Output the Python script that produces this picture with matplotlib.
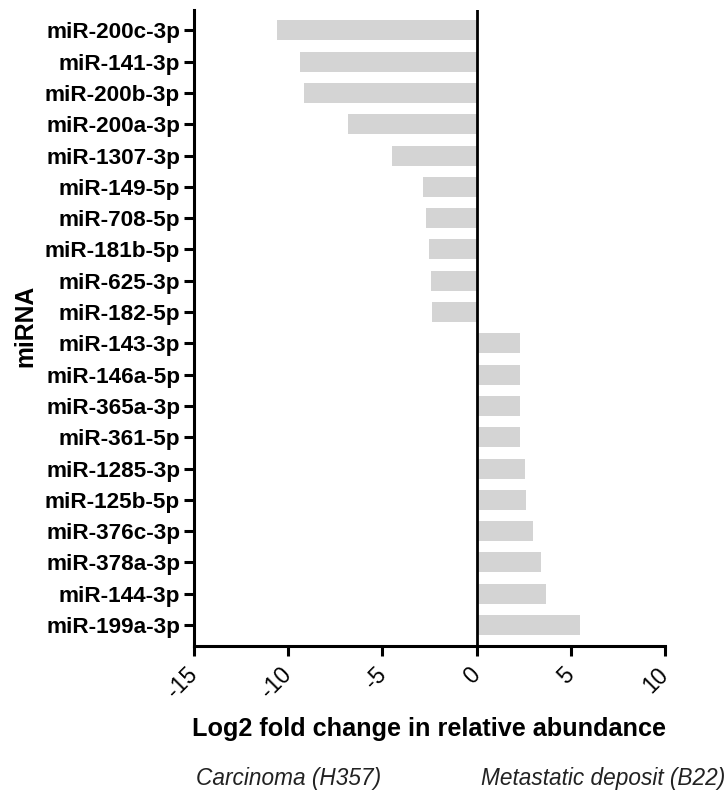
import matplotlib
matplotlib.use("Agg")
import matplotlib.pyplot as plt
from matplotlib.transforms import ScaledTranslation

plt.rcParams['font.family'] = ['Liberation Sans', 'DejaVu Sans']
plt.rcParams['axes.unicode_minus'] = False

# miRNAs, top to bottom as in the figure
mirnas = ["miR-200c-3p", "miR-141-3p", "miR-200b-3p", "miR-200a-3p", "miR-1307-3p",
          "miR-149-5p", "miR-708-5p", "miR-181b-5p", "miR-625-3p", "miR-182-5p",
          "miR-143-3p", "miR-146a-5p", "miR-365a-3p", "miR-361-5p", "miR-1285-3p",
          "miR-125b-5p", "miR-376c-3p", "miR-378a-3p", "miR-144-3p", "miR-199a-3p"]
log2fc = [-10.6, -9.35, -9.15, -6.85, -4.5,
          -2.85, -2.7, -2.55, -2.42, -2.35,
          2.28, 2.28, 2.33, 2.33, 2.55,
          2.63, 2.97, 3.4, 3.68, 5.5]
xticks = [-15, -10, -5, 0, 5, 10]

fig = plt.figure(figsize=(7.28, 7.98), dpi=100)
ax = fig.add_axes([194/728, 1 - 646/798, (665 - 194)/728, (646 - 10)/798])

ypos = list(range(len(mirnas)))
ax.barh(ypos, log2fc, height=0.64, color='#d4d4d4', edgecolor='none', zorder=1)
ax.axvline(0, color='black', linewidth=2, zorder=2)

ax.set_xlim(-15, 10)
ax.set_ylim(len(mirnas) - 0.33, -0.65)

ax.set_yticks(ypos)
ax.set_yticklabels(mirnas, fontsize=16.2, fontweight='bold')
ax.set_xticks(xticks)
ax.set_xticklabels([str(t) for t in xticks], fontsize=16.5, rotation=45,
                   ha='right', va='center', rotation_mode='anchor')
# nudge rotated labels a little to the right, like the original
shift = ScaledTranslation(4/100, 0, fig.dpi_scale_trans)
for lbl in ax.get_xticklabels():
    lbl.set_transform(lbl.get_transform() + shift)

for s in ['top', 'right']:
    ax.spines[s].set_visible(False)
for s in ['left', 'bottom']:
    ax.spines[s].set_linewidth(2.2)
ax.tick_params(axis='both', width=2.2, length=7, color='black')
ax.tick_params(axis='y', pad=3)
ax.tick_params(axis='x', pad=11)

fig.text(25/728, 1 - 326/798, "miRNA", rotation=90, fontsize=17.8, fontweight='bold',
         ha='center', va='center')
fig.text(429.5/728, 1 - 729/798, "Log2 fold change in relative abundance",
         fontsize=18.2, fontweight='bold', ha='center', va='center')
fig.text(196/728, 1 - 779/798, "Carcinoma (H357)", fontsize=16.3, style='italic',
         ha='left', va='center', color='#222222')
fig.text(725/728, 1 - 779/798, "Metastatic deposit (B22)", fontsize=16.3, style='italic',
         ha='right', va='center', color='#222222')

fig.savefig("out.png", dpi=100)
